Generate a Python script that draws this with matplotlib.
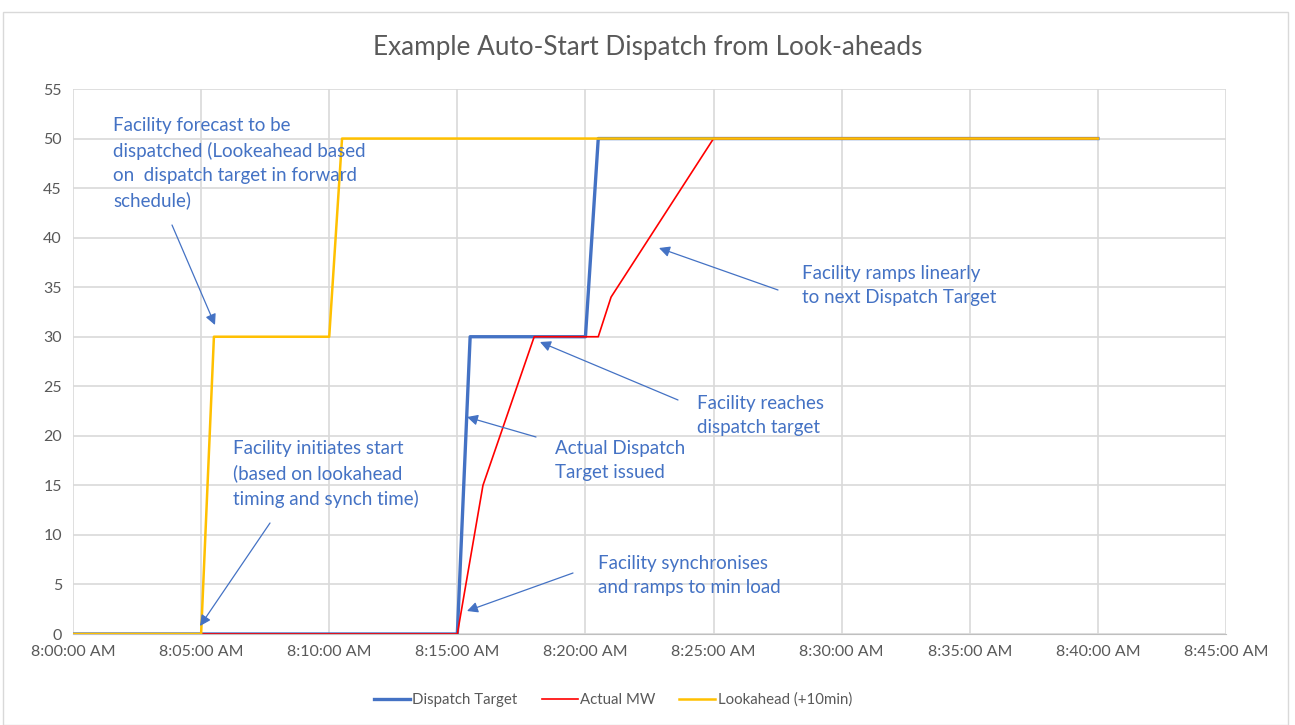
import matplotlib
matplotlib.use("Agg")
import matplotlib.pyplot as plt
from matplotlib.patches import Rectangle

plt.rcParams['font.family'] = ['Lato', 'DejaVu Sans']

# Data (minutes after 8:00 AM)
dispatch_t = [0, 15, 15.5, 20, 20.5, 40]
dispatch_v = [0, 0, 30, 30, 50, 50]
actual_t = [5, 15, 16, 18, 20.5, 21, 25, 40]
actual_v = [0, 0, 15, 30, 30, 34, 50, 50]
look_t = [0, 5, 5.5, 10, 10.5, 40]
look_v = [0, 0, 30, 30, 50, 50]
x_ticks = [0, 5, 10, 15, 20, 25, 30, 35, 40, 45]
x_labels = ["8:00:00 AM", "8:05:00 AM", "8:10:00 AM", "8:15:00 AM", "8:20:00 AM",
            "8:25:00 AM", "8:30:00 AM", "8:35:00 AM", "8:40:00 AM", "8:45:00 AM"]
y_ticks = list(range(0, 56, 5))

W, H = 1295, 725
fig = plt.figure(figsize=(W / 100, H / 100), dpi=100)
fig.patch.set_facecolor('white')
fig.add_artist(Rectangle((3 / W, 0), (1288 - 3) / W, 1 - 12 / H, transform=fig.transFigure,
                         fill=False, edgecolor='#D9D9D9', lw=1))

L, R, T, B = 73, 1226, 89, 634
ax = fig.add_axes([L / W, 1 - B / H, (R - L) / W, (B - T) / H])
ax.set_xlim(0, 45)
ax.set_ylim(0, 55)
ax.set_xticks(x_ticks)
ax.set_xticklabels(x_labels)
ax.set_yticks(y_ticks)
ax.grid(True, color='#D9D9D9', lw=1.2)
ax.set_axisbelow(True)
for s in ['top', 'right', 'left']:
    ax.spines[s].set_visible(False)
ax.spines['bottom'].set_color('#BFBFBF')
ax.tick_params(length=0, colors='#595959', labelsize=11.5, pad=8)

c_blue = '#4472C4'
ax.plot(dispatch_t, dispatch_v, color=c_blue, lw=2.4, label='Dispatch Target', zorder=3)
ax.plot(actual_t, actual_v, color='#FF0000', lw=1.2, label='Actual MW', zorder=4)
ax.plot(look_t, look_v, color='#FFC000', lw=1.8, label='Lookahead (+10min)', zorder=5)

fig.text(0.5, 1 - 47 / H, 'Example Auto-Start Dispatch from Look-aheads', ha='center', va='center',
         fontsize=18.8, color='#595959')

leg = fig.legend(loc='center', bbox_to_anchor=(613 / W, 1 - 700 / H), ncol=3, frameon=False,
                 fontsize=10.8, labelcolor='#595959', handlelength=2.4, columnspacing=1.6,
                 handletextpad=0.15)


def fp(x, y):
    return (x / W, 1 - y / H)


notes = [
    ("Facility forecast to be\ndispatched (Lookeahead based\non  dispatch target in forward\nschedule)",
     (113, 117), (172, 225), (215, 325)),
    ("Facility initiates start\n(based on lookahead\ntiming and synch time)",
     (233, 440), (270, 523), (200, 626)),
    ("Actual Dispatch\nTarget issued", (555, 440), (536, 437), (467, 417)),
    ("Facility synchronises\nand ramps to min load", (598, 555), (573, 573), (467, 611)),
    ("Facility reaches\ndispatch target", (697, 395), (678, 400), (540, 342)),
    ("Facility ramps linearly\nto next Dispatch Target", (802, 265), (778, 290), (659, 248)),
]
for text, tpos, start, tip in notes:
    fig.text(*fp(*tpos), text, ha='left', va='top', fontsize=13.5, color=c_blue, linespacing=1.5)
    fig.add_artist(matplotlib.patches.FancyArrowPatch(
        fp(*start), fp(*tip), transform=fig.transFigure, arrowstyle='-|>',
        mutation_scale=16, color=c_blue, lw=0.9, shrinkA=0, shrinkB=0, zorder=10))

fig.savefig('out.png', dpi=100)
